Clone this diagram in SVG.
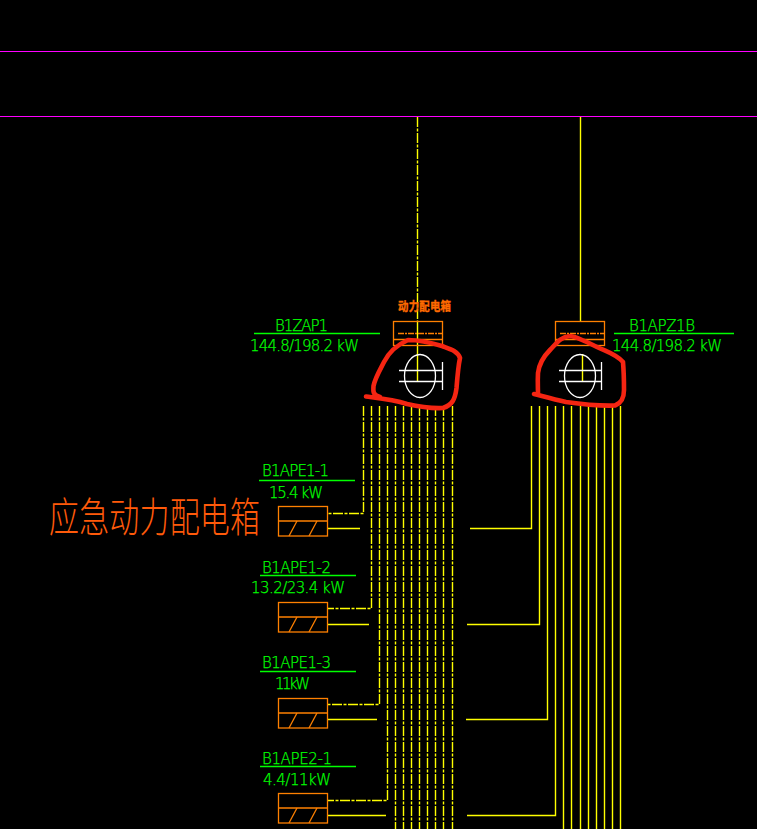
<svg xmlns="http://www.w3.org/2000/svg" width="757" height="829" viewBox="0 0 757 829">
<style>
text{font-family:"DejaVu Sans","Liberation Sans","Noto Sans CJK SC",sans-serif}
.g{fill:#00ff00;stroke:#00ff00;stroke-width:0.25;font-size:15px;font-weight:200}
.gl{stroke:#00ff00;stroke-width:1.3;fill:none}
.y{stroke:#ffff00;stroke-width:1.4;fill:none}
.d{stroke-dasharray:10 1.5 3 1.5}
.o{stroke:#ff8000;stroke-width:1.3;fill:none}
.w{stroke:#ffffff;stroke-width:1.3;fill:none}
.r{stroke:#f52512;stroke-width:4.6;fill:none;stroke-linecap:round;stroke-linejoin:round}
.m{stroke:#ff00ff;stroke-width:1.2}
</style>
<defs>
<g id="box">
<rect class="o" x="278.5" y="0.5" width="49" height="29.5"/>
<line class="o" x1="278.5" y1="15" x2="327.5" y2="15"/>
<line class="o" x1="289" y1="30" x2="297" y2="15"/>
<line class="o" x1="309" y1="30" x2="317" y2="15"/>
</g>
<g id="panel">
<rect class="o" x="0.5" y="0.5" width="49" height="24"/>
<line class="o" x1="5" y1="12.5" x2="49.5" y2="12.5" stroke-dasharray="6 1 2 1"/>
<line class="o" x1="0.5" y1="18.5" x2="49.5" y2="18.5"/>
</g>
</defs>
<rect width="757" height="829" fill="#000"/>
<g id="connectors">
<line class="m" x1="0" y1="51.5" x2="757" y2="51.5"/>
<line class="m" x1="0" y1="116.5" x2="757" y2="116.5"/>
<path class="y d" d="M417.500 117V322"/>
<path class="y" d="M580.500 117V322"/>
<path class="y" d="M417.500 322V381"/>
<path class="y" d="M582.500 354V381"/>
<path class="y d" d="M363.500 406V513.500H328"/>
<path class="y d" d="M371.500 406V608.500H328"/>
<path class="y d" d="M379.500 406V704.500H328"/>
<path class="y d" d="M387.500 406V800.500H328"/>
<path class="y d" d="M395.500 406V829"/>
<path class="y d" d="M403.500 406V829"/>
<path class="y d" d="M411.500 406V829"/>
<path class="y d" d="M419.500 406V829"/>
<path class="y d" d="M427.500 406V829"/>
<path class="y d" d="M435.500 406V829"/>
<path class="y d" d="M443.500 406V829"/>
<path class="y d" d="M452.500 406V829"/>
<path class="y" d="M328 528.500H360M328 624.500H369M328 719.500H377M328 815.500H386"/>
<path class="y" d="M470 528.500H531.500V406M467 624.500H539.500V406M466 719.500H547.500V406M467 815.500H555.500V406"/>
<path class="y" d="M563.500 406V829M571.500 406V829M580.500 406V829M588.500 406V829M596.500 406V829M604.500 406V829M612.500 406V829M620.500 406V829"/>
</g>
<g id="node-B1ZAP1">
<text class="g" x="275" y="330.500" textLength="53">B1ZAP1</text>
<line class="gl" x1="254" y1="333.500" x2="380" y2="333.500"/>
<text class="g" x="250" y="351" textLength="109">144.8/198.2 kW</text>
<text transform="translate(398 311) scale(1 1.15)" font-size="10.4" font-weight="700" fill="#ff6a00" stroke="#ff6a00" stroke-width="0.35" textLength="53" style="font-family:'Noto Sans CJK SC',sans-serif">动力配电箱</text>
<use href="#panel" x="393" y="321"/>
<ellipse class="w" cx="420" cy="376" rx="15.500" ry="21.500"/>
<path class="w" d="M399 370.500H442M399 381.500H442M442.500 362V390"/>
</g>
<g id="node-B1APZ1B">
<text class="g" x="629" y="330.500" textLength="66">B1APZ1B</text>
<line class="gl" x1="614" y1="333.500" x2="734" y2="333.500"/>
<text class="g" x="612" y="351" textLength="110">144.8/198.2 kW</text>
<use href="#panel" x="555" y="321"/>
<ellipse class="w" cx="580" cy="376" rx="15.500" ry="21.500"/>
<path class="w" d="M559 370.500H601M559 381.500H601M601.500 362V390"/>
</g>
<g id="scribble-left"><path class="r" d="M366 396.500C378 398 392 399 407 404C420 407 432 408.500 443 408C452 405 455 400 456.500 388C457.500 375 458.500 365 460 358C458 351 450 349 442 346C432 343 420 340 408 340C399 344 390 350 384 362C380 370 375 378 373.500 386C373 392 373 395 380 397"/></g>
<g id="scribble-right"><path class="r" d="M534 394C542 396 552 399 566 402C580 404 600 406 615 405.500C622 403 624 397 624 390C624 378 623.500 368 623 362C616 354 605 351 597 347C585 341 575 336 570 336C560 337 556 344 550 350C543 357 539 365 538 373C537.500 382 538 388 538 395"/></g>
<g id="node-B1APE1-1">
<text class="g" x="262" y="476" textLength="67">B1APE1-1</text>
<line class="gl" x1="259" y1="480.500" x2="355" y2="480.500"/>
<text class="g" x="269" y="497.500" textLength="54">15.4 kW</text>
<use href="#box" y="506"/>
</g>
<g id="node-B1APE1-2">
<text class="g" x="262" y="572.500" textLength="69">B1APE1-2</text>
<line class="gl" x1="260" y1="575.500" x2="356" y2="575.500"/>
<text class="g" x="251" y="593" textLength="94">13.2/23.4 kW</text>
<use href="#box" y="602"/>
</g>
<g id="node-B1APE1-3">
<text class="g" x="262" y="667.500" textLength="69">B1APE1-3</text>
<line class="gl" x1="260" y1="671.500" x2="356" y2="671.500"/>
<text class="g" x="275" y="688.500" textLength="35">11kW</text>
<use href="#box" y="698"/>
</g>
<g id="node-B1APE2-1">
<text class="g" x="262" y="763.500" textLength="70">B1APE2-1</text>
<line class="gl" x1="260" y1="766.500" x2="356" y2="766.500"/>
<text class="g" x="263" y="784.500" textLength="68">4.4/11kW</text>
<use href="#box" y="793"/>
</g>
<g id="note">
<text transform="translate(49 532) scale(1 1.35)" font-size="30" font-weight="300" fill="#ff5a0a" textLength="211" style="font-family:'Noto Sans CJK SC',sans-serif">应急动力配电箱</text>
</g>
</svg>
